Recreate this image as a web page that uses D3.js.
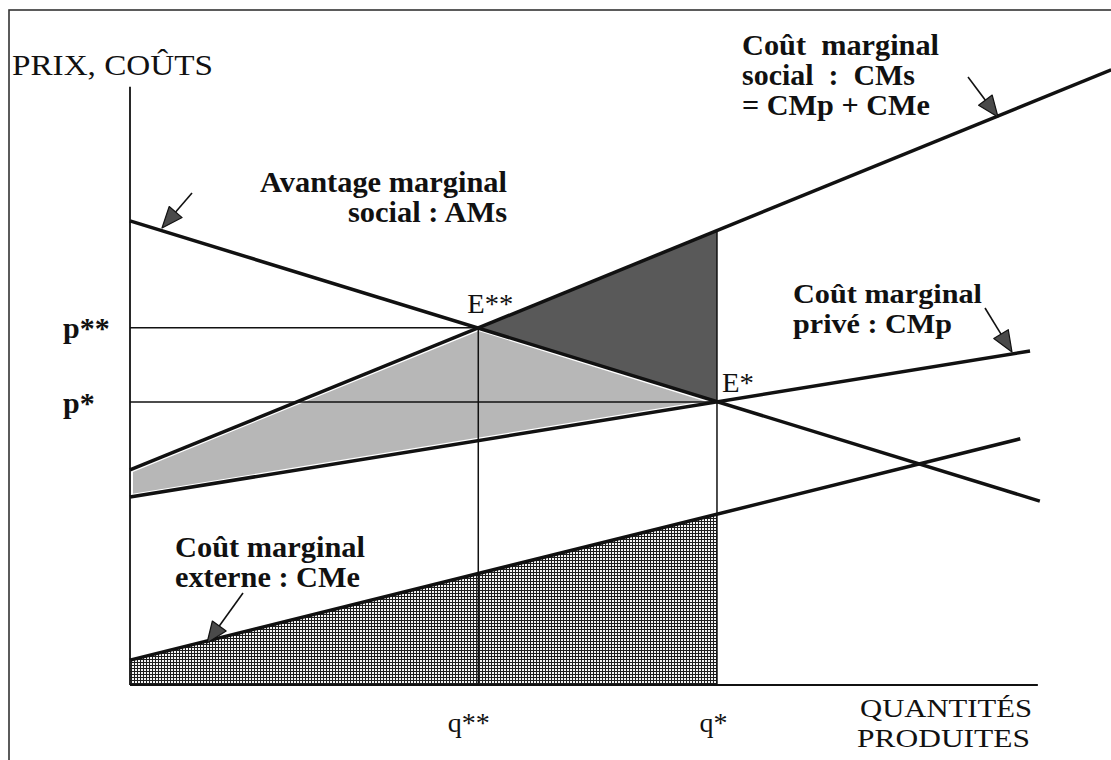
<!DOCTYPE html>
<html><head><meta charset="utf-8">
<script src="https://cdn.jsdelivr.net/npm/d3@7"></script>
<style>
html,body{margin:0;padding:0;background:#fff;}
svg{display:block;}
text{font-family:"Liberation Serif","Times New Roman",serif;fill:#111;white-space:pre;}
</style></head><body>
<svg id="c" width="1111" height="760"></svg>
<script>
// ---------- data (quantity / price units) ----------
const xTickValues = [3.56, 6.0];
const xTickLabels = ["q**", "q*"];
const yTickValues = [6.31, 5.0];
const yTickLabels = ["p**", "p*"];
const curveNames = ["AMs", "CMs", "CMp", "CMe"];
const curveQ0 = [0, 0, 0, 0];
const curveP0 = [8.2, 3.8, 3.32, 0.44];
const curveQ1 = [9.3, 10.03, 9.2, 9.1];
const curveP1 = [3.25, 10.87, 5.9, 4.35];
const equilibriumNames = ["E**", "E*"];
const equilibriumQ = [3.56, 6.0];
const equilibriumP = [6.31, 5.0];
const cmsAtQstar = 8.03;
const cmeAtQstar = 3.02;
const xAxisEnd = 9.28;
const yAxisTop = 10.57;

// ---------- setup ----------
const svg = d3.select("#c");
const x = d3.scaleLinear().domain([0, 10]).range([130, 1108.3]);
const y = d3.scaleLinear().domain([0, 10]).range([685, 119]);
const P = (q, p) => [x(q), y(p)];

// frame (right and bottom edges are cut off in the reference)
svg.append("rect").attr("x", 9).attr("y", 10).attr("width", 1200).attr("height", 800)
  .attr("fill", "none").attr("stroke", "#333").attr("stroke-width", 1.6);

const defs = svg.append("defs");
const pat = defs.append("pattern").attr("id", "grid").attr("patternUnits", "userSpaceOnUse")
  .attr("width", 3).attr("height", 3);
pat.append("rect").attr("width", 3).attr("height", 3).attr("fill", "#f4f4f4");
pat.append("rect").attr("x", 0).attr("y", 2).attr("width", 3).attr("height", 1).attr("fill", "#1e1e1e");
pat.append("rect").attr("x", 2).attr("y", 0).attr("width", 1).attr("height", 3).attr("fill", "#1e1e1e");

const iE2 = 0, iE1 = 1;
const Ess = P(equilibriumQ[iE2], equilibriumP[iE2]);
const Es = P(equilibriumQ[iE1], equilibriumP[iE1]);
const qStar = equilibriumQ[iE1];

// hatched area under CMe up to q*
svg.append("path")
  .attr("d", d3.line()([P(0, 0), P(curveQ0[3], curveP0[3]), P(qStar, cmeAtQstar), P(qStar, 0)]) + "Z")
  .attr("fill", "url(#grid)");

// light grey area between CMs / AMs and CMp
svg.append("path")
  .attr("d", d3.line()([P(curveQ0[1], curveP0[1]), Ess, Es, P(curveQ0[2], curveP0[2])]) + "Z")
  .attr("fill", "#b7b7b7").attr("stroke", "#fff").attr("stroke-width", 6).attr("stroke-linejoin", "round");

// dark triangle
svg.append("path")
  .attr("d", d3.line()([Ess, P(qStar, cmsAtQstar), Es]) + "Z")
  .attr("fill", "#595959");

// thin guide lines
const thin = svg.append("g").attr("stroke", "#111").attr("stroke-width", 1.5).attr("fill", "none");
thin.append("line").attr("x1", x(0)).attr("y1", y(yTickValues[0])).attr("x2", Ess[0]).attr("y2", Ess[1]);
thin.append("line").attr("x1", x(0)).attr("y1", y(yTickValues[1])).attr("x2", Es[0]).attr("y2", Es[1]);
thin.append("line").attr("x1", x(xTickValues[0])).attr("y1", Ess[1]).attr("x2", x(xTickValues[0])).attr("y2", y(0));
thin.append("line").attr("x1", x(xTickValues[1])).attr("y1", y(cmsAtQstar)).attr("x2", x(xTickValues[1])).attr("y2", y(0));

// axes lines
svg.append("line").attr("x1", x(0)).attr("y1", y(yAxisTop)).attr("x2", x(0)).attr("y2", y(0))
  .attr("stroke", "#111").attr("stroke-width", 1.8);
svg.append("line").attr("x1", x(0)).attr("y1", y(0)).attr("x2", x(xAxisEnd)).attr("y2", y(0))
  .attr("stroke", "#111").attr("stroke-width", 2);

// curves
curveNames.forEach((n, i) => {
  svg.append("path").attr("class", "curve-" + n)
    .attr("d", d3.line()([P(curveQ0[i], curveP0[i]), P(curveQ1[i], curveP1[i])]))
    .attr("stroke", "#111").attr("stroke-width", 3.5).attr("fill", "none");
});

// tick labels via d3 axes
const xAxis = svg.append("g").attr("transform", `translate(0,${y(0)})`)
  .call(d3.axisBottom(x).tickValues(xTickValues).tickFormat((d, i) => xTickLabels[i]).tickSize(0));
xAxis.select(".domain").remove();
const xDx = [-10, -4];
xAxis.selectAll("text").attr("y", 47).attr("dy", 0).attr("dx", (d, i) => xDx[i])
  .attr("font-size", 28).attr("font-family", null).attr("fill", "#111");

const yAxis = svg.append("g").attr("transform", `translate(${x(0)},0)`)
  .call(d3.axisLeft(y).tickValues(yTickValues).tickFormat((d, i) => yTickLabels[i]).tickSize(0));
yAxis.select(".domain").remove();
yAxis.selectAll("text").attr("x", -67).attr("y", 10).attr("dy", 0).attr("text-anchor", "start")
  .attr("font-size", 30).attr("font-weight", "bold").attr("font-family", null).attr("fill", "#111");

// equilibrium labels
const eOff = [[-11, -15], [5, -10]];
const eW = [46, 32];
equilibriumNames.forEach((n, i) => {
  const pt = P(equilibriumQ[i], equilibriumP[i]);
  svg.append("text").attr("x", pt[0] + eOff[i][0]).attr("y", pt[1] + eOff[i][1])
    .attr("font-size", 28).attr("textLength", eW[i]).attr("lengthAdjust", "spacingAndGlyphs").text(n);
});

// text annotations
const labels = [
  {t: "PRIX, COÛTS", x: 12, y: 75, w: 201, fs: 30, fw: "normal"},
  {t: "Coût  marginal", x: 742, y: 55, w: 197, fs: 29, fw: "bold"},
  {t: "social  :  CMs", x: 742, y: 85, w: 173, fs: 29, fw: "bold"},
  {t: "= CMp + CMe", x: 742, y: 115, w: 188, fs: 29, fw: "bold"},
  {t: "Avantage marginal", x: 260, y: 192, w: 247, fs: 29, fw: "bold"},
  {t: "social : AMs", x: 348, y: 222, w: 159, fs: 29, fw: "bold"},
  {t: "Coût marginal", x: 793, y: 303, w: 189, fs: 28, fw: "bold"},
  {t: "privé : CMp", x: 793, y: 333, w: 159, fs: 28, fw: "bold"},
  {t: "Coût marginal", x: 175, y: 557, w: 190, fs: 29, fw: "bold"},
  {t: "externe : CMe", x: 175, y: 587, w: 185, fs: 29, fw: "bold"},
  {t: "QUANTITÉS", x: 860, y: 717, w: 172, fs: 25, fw: "normal"},
  {t: "PRODUITES", x: 857, y: 747, w: 173, fs: 25, fw: "normal"}
];
labels.forEach(l => {
  svg.append("text").attr("x", l.x).attr("y", l.y).attr("font-size", l.fs).attr("font-weight", l.fw)
    .attr("textLength", l.w).attr("lengthAdjust", "spacingAndGlyphs").text(l.t);
});

// arrows: [tailX, tailY, tipX, tipY] in pixels
const arrows = [
  [968, 77, 998, 117],
  [192, 193, 162, 228],
  [985, 308, 1012, 352],
  [243, 593, 207, 643]
];
arrows.forEach(a => {
  const [tx, ty, hx, hy] = a;
  const dx = hx - tx, dy = hy - ty, len = Math.hypot(dx, dy);
  const ux = dx / len, uy = dy / len, nx = -uy, ny = ux;
  const L = 21, W = 8.5;
  const bx = hx - ux * L, by = hy - uy * L;
  svg.append("line").attr("x1", tx).attr("y1", ty).attr("x2", bx).attr("y2", by)
    .attr("stroke", "#111").attr("stroke-width", 1.6);
  svg.append("path").attr("d", d3.line()([[hx, hy], [bx + nx * W, by + ny * W], [bx - nx * W, by - ny * W]]) + "Z")
    .attr("fill", "#4a4a4a").attr("stroke", "#111").attr("stroke-width", 1.2).attr("stroke-linejoin", "round");
});
</script>
</body></html>
